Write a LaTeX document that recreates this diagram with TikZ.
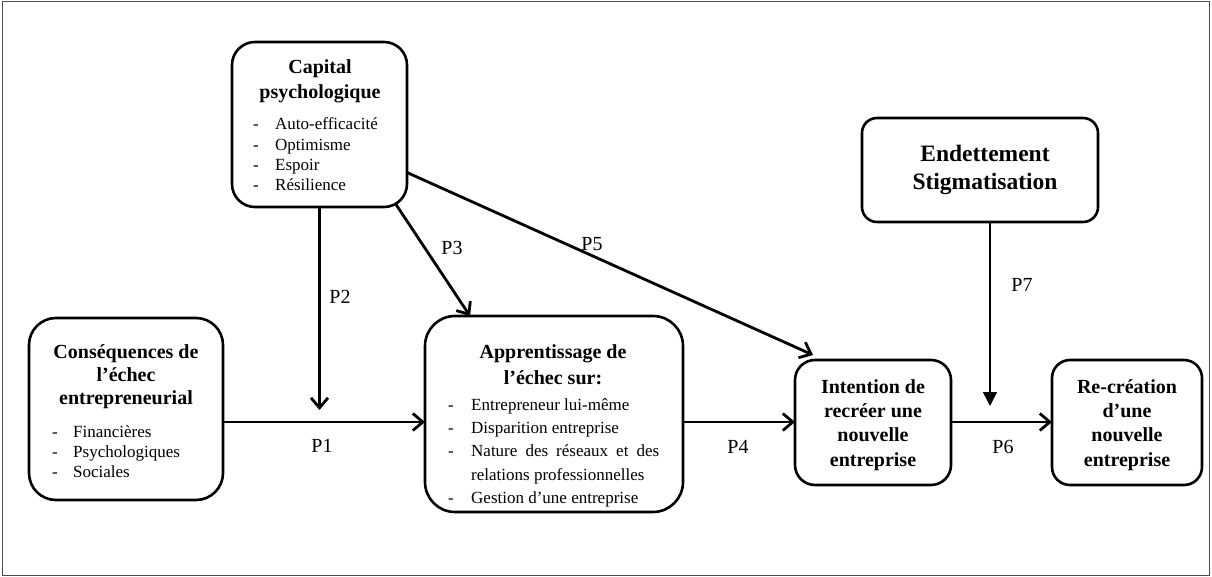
\documentclass[tikz,border=0pt]{standalone}
\usepackage{fontspec}
\setmainfont{Liberation Serif}
\usetikzlibrary{arrows.meta,calc}
\tikzset{
 box/.style={draw, line width=2.6pt, inner sep=0pt, outer sep=0pt},
 ttl/.style={font=\fontsize{20}{24}\selectfont\bfseries, anchor=base, inner sep=0pt},
 bigttl/.style={font=\fontsize{23.5}{28}\selectfont\bfseries, anchor=base, inner sep=0pt},
 itm/.style={font=\fontsize{17}{20}\selectfont, anchor=base west, inner sep=0pt},
 lbl/.style={font=\fontsize{20}{24}\selectfont, inner sep=0pt},
 arr/.style={line width=2.8pt, -{Straight Barb[length=10pt,width=17pt]}},
 thinarr/.style={line width=1.5pt, -{Triangle[length=14pt,width=14pt]}},
 frame/.style={draw=black!70, line width=1.2pt},
}
\begin{document}
\begin{tikzpicture}[x=1pt,y=-1pt]
\useasboundingbox (0,0) rectangle (1212,577);
\draw[frame] (2.5,1.5) rectangle (1209.5,575.5);

% boxes
\node[box, minimum width=175pt, minimum height=165pt, rounded corners=23pt] (cap) at (319.5,124.5) {};
\node[box, minimum width=194pt, minimum height=182pt, rounded corners=27pt] (cons) at (126,409) {};
\node[box, minimum width=258pt, minimum height=196pt, rounded corners=30pt] (app) at (554,414) {};
\node[box, minimum width=156pt, minimum height=125pt, rounded corners=20pt] (int) at (873,422.5) {};
\node[box, minimum width=150pt, minimum height=125pt, rounded corners=18pt] (rec) at (1127,422.5) {};
\node[box, minimum width=236pt, minimum height=104pt, rounded corners=15pt] (end) at (980,170) {};

% Capital psychologique
\node[ttl] (capT1) at (320,74) {Capital};
\node[ttl] (capT2) at (320,99) {psychologique};
\node[itm] (capI1) at (253,130) {\makebox[22pt][l]{-}Auto-efficacité};
\node[itm] (capI2) at (253,150.3) {\makebox[22pt][l]{-}Optimisme};
\node[itm] (capI3) at (253,170.6) {\makebox[22pt][l]{-}Espoir};
\node[itm] (capI4) at (253,191) {\makebox[22pt][l]{-}Résilience};

% Consequences
\node[ttl] (consT1) at (126,358) {Conséquences de};
\node[ttl] (consT2) at (126,381) {l’échec};
\node[ttl] (consT3) at (126,404) {entrepreneurial};
\node[itm] (consI1) at (52,437) {\makebox[21pt][l]{-}Financières};
\node[itm] (consI2) at (52,457.3) {\makebox[21pt][l]{-}Psychologiques};
\node[itm] (consI3) at (52,477.6) {\makebox[21pt][l]{-}Sociales};

% Apprentissage
\node[ttl] (appT1) at (553,358) {Apprentissage de};
\node[ttl] (appT2) at (553,384) {l’échec sur:};
\node[itm] (appI1) at (448,410) {\makebox[23pt][l]{-}Entrepreneur lui-même};
\node[itm] (appI2) at (448,433.3) {\makebox[23pt][l]{-}Disparition entreprise};
\node[itm] (appI3) at (448,456.6) {\makebox[23pt][l]{-}\makebox[188pt][s]{Nature des réseaux et des}};
\node[itm] (appI3b) at (471,480) {relations professionnelles};
\node[itm] (appI4) at (448,503.3) {\makebox[23pt][l]{-}Gestion d’une entreprise};

% Intention
\node[ttl] (intT1) at (873,393) {Intention de};
\node[ttl] (intT2) at (873,417.3) {recréer une};
\node[ttl] (intT3) at (873,441.6) {nouvelle};
\node[ttl] (intT4) at (873,466) {entreprise};

% Re-creation
\node[ttl] (recT1) at (1127,393) {Re-création};
\node[ttl] (recT2) at (1127,417.3) {d’une};
\node[ttl] (recT3) at (1127,441.6) {nouvelle};
\node[ttl] (recT4) at (1127,466) {entreprise};

% Endettement
\node[bigttl] (endT1) at (985,162) {Endettement};
\node[bigttl] (endT2) at (985,190) {Stigmatisation};

% helper coordinates
\coordinate (row) at (0,422);
\coordinate (p2end) at (319.5,410);
\coordinate (p3s) at ($(cap.south east)+(-12,-4)$);
\coordinate (p3e) at ($(app.north west)+(45,0)$);
\coordinate (p5s) at ($(cap.east)+(0,48)$);
\coordinate (p5e) at ($(int.north west)+(18,-5)$);
\coordinate (p7s) at ($(end.south)+(10,0)$);
\coordinate (p7e) at (990,406);

% connectors
\draw[arr] (cons.east |- row) -- (app.west |- row);
\draw[arr] (cap.south) -- (p2end);
\draw[arr] (p3s) -- (p3e);
\draw[arr] (p5s) -- (p5e);
\draw[arr] (app.east |- row) -- (int.west |- row);
\draw[arr] (int.east |- row) -- (rec.west |- row);
\draw[thinarr] (p7s) -- (p7e);

% labels
\node[lbl] (lP1) at (322,446) {P1};
\node[lbl] (lP2) at (340,297) {P2};
\node[lbl] (lP3) at (452,248) {P3};
\node[lbl] (lP4) at (738,447) {P4};
\node[lbl] (lP5) at (592,244) {P5};
\node[lbl] (lP6) at (1003,447) {P6};
\node[lbl] (lP7) at (1022,285) {P7};
\end{tikzpicture}
\end{document}
